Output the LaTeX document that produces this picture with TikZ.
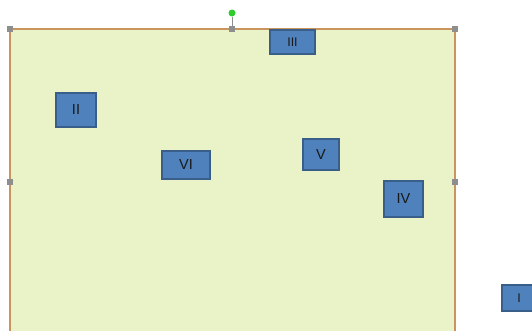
\documentclass[tikz,border=0pt]{standalone}
\usepackage{fontspec}
\setmainfont{Liberation Sans}
\usepackage{xcolor}
\definecolor{cPanel}{HTML}{EAF3C7}
\definecolor{cFrame}{HTML}{C8965C}
\definecolor{cBox}{HTML}{4F81BD}
\definecolor{cBoxLine}{HTML}{3A5E8A}
\definecolor{cHandle}{HTML}{8E8E8E}
\definecolor{cRot}{HTML}{2ECC2E}
\usepackage{tikz}
\usetikzlibrary{positioning}
\tikzset{
  panel/.style={draw=cFrame,line width=2pt,fill=cPanel},
  node-tag/.style={draw=cBoxLine,line width=1.2pt,fill=cBox,inner sep=0pt,
    text=black!90,font=\fontsize{14.5}{16}\selectfont},
  handle/.style={draw=none,fill=cHandle,minimum size=6pt,inner sep=0pt},
  rot-handle/.style={circle,draw=none,fill=cRot,minimum size=7pt,inner sep=0pt},
  rot-line/.style={draw=cHandle,line width=0.8pt},
}

\begin{document}
\begin{tikzpicture}[x=1pt,y=-1pt]
  \useasboundingbox (0,0) rectangle (532,330);
  \clip (0,0) rectangle (532,330);
  % canvas
  \fill[white] (0,0) rectangle (532,330);
  \draw[panel] (10,29) rectangle (455,334);
  % tags
  \node[node-tag,minimum width=45pt,minimum height=24pt,
    font=\fontsize{12.5}{14}\selectfont] (t3) at (292.5,42) {III};
  \node[node-tag,minimum width=40pt,minimum height=34pt] (t2) at (76,110) {II};
  \node[node-tag,minimum width=48pt,minimum height=28pt] (t6) at (186,165) {VI};
  \node[node-tag,minimum width=36pt,minimum height=31pt] (t5) at (321,154.5) {V};
  \node[node-tag,minimum width=39pt,minimum height=36pt] (t4) at (403.5,199) {IV};
  \node[node-tag,minimum width=34pt,minimum height=26pt,
    font=\fontsize{12.5}{14}\selectfont] (t1) at (519,298) {I};
  % selection handles
  \node[handle] (hNW) at (10,29) {};
  \node[handle] (hN)  at (232,29) {};
  \node[handle] (hNE) at (455,29) {};
  \node[handle] (hW)  at (10,182) {};
  \node[handle] (hE)  at (455,182) {};
  \node[handle] (hS)  at (232,334) {};
  \node[rot-handle] (rot) at (232,13) {};
  \draw[rot-line] (rot) -- (hN);
\end{tikzpicture}
\end{document}
